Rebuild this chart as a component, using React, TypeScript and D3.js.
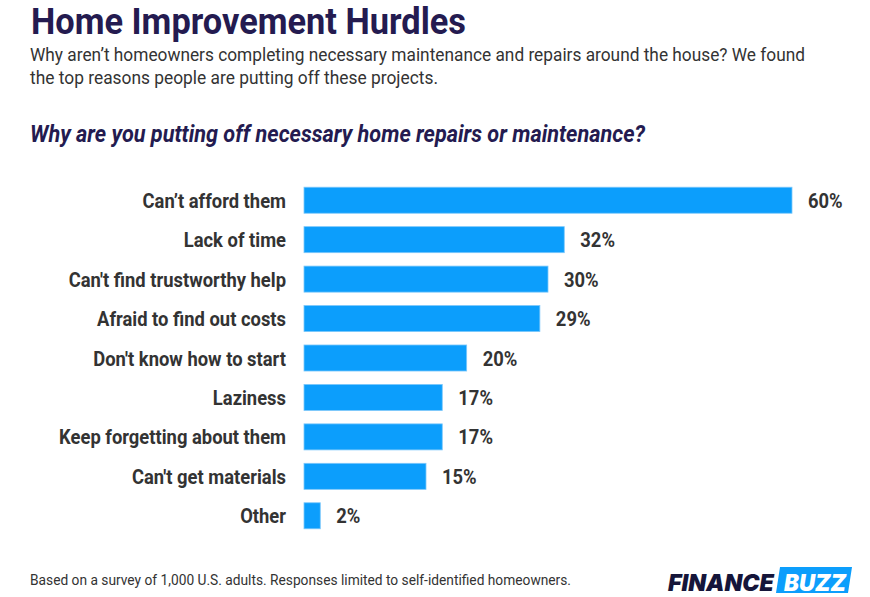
import React from "react";
import * as d3 from "d3";

const categories = [
  "Can’t afford them",
  "Lack of time",
  "Can't find trustworthy help",
  "Afraid to find out costs",
  "Don't know how to start",
  "Laziness",
  "Keep forgetting about them",
  "Can't get materials",
  "Other",
];
const values = [60, 32, 30, 29, 20, 17, 17, 15, 2];

const W = 870;
const H = 597;
const SX = 0.92; // condensed look

export default function App() {
  const x = d3.scaleLinear().domain([0, 60]).range([304, 792]);
  const y = d3
    .scaleBand<string>()
    .domain(categories)
    .range([180.5, 535.5])
    .paddingInner(0.34)
    .paddingOuter(0.17);
  const bw = y.bandwidth();
  const font = "Roboto, 'Noto Sans', sans-serif";

  return (
    <svg width={W} height={H} viewBox={`0 0 ${W} ${H}`} style={{ position: "absolute", left: 0, top: 0, background: "#fff" }}>
      <rect x={0} y={0} width={W} height={H} fill="#fff" />
      <text x={31} y={34.3} fontFamily={font} fontWeight={700} fontSize={37} fill="#241b50" textLength={435} lengthAdjust="spacingAndGlyphs">
        Home Improvement Hurdles
      </text>
      <text x={30} y={61} fontFamily={font} fontSize={18} fill="#333" textLength={775} lengthAdjust="spacingAndGlyphs">
        Why aren’t homeowners completing necessary maintenance and repairs around the house? We found
      </text>
      <text x={30} y={84} fontFamily={font} fontSize={18} fill="#333" textLength={408} lengthAdjust="spacingAndGlyphs">
        the top reasons people are putting off these projects.
      </text>
      <text x={30} y={142} fontFamily={font} fontWeight={700} fontStyle="italic" fontSize={23} fill="#241b50" textLength={615} lengthAdjust="spacingAndGlyphs">
        Why are you putting off necessary home repairs or maintenance?
      </text>

      {categories.map((c, i) => {
        const yy = y(c)!;
        const cy = yy + bw / 2;
        return (
          <g key={c}>
            <rect x={x(0)} y={yy} width={x(values[i]) - x(0)} height={bw} fill="#0c9efc" stroke="#7cc8fb" strokeWidth={0.8} />
            <text transform={`translate(286,${cy + 7.5}) scale(${SX},1)`} textAnchor="end" fontFamily={font} fontWeight={700} fontSize={20} fill="#333">
              {c}
            </text>
            <text transform={`translate(${x(values[i]) + 16},${cy + 7.5}) scale(${SX},1)`} fontFamily={font} fontWeight={700} fontSize={20} fill="#333">
              {values[i]}%
            </text>
          </g>
        );
      })}

      <text x={30} y={585} fontFamily={font} fontSize={14} fill="#333" textLength={541} lengthAdjust="spacingAndGlyphs">
        Based on a survey of 1,000 U.S. adults. Responses limited to self-identified homeowners.
      </text>

      <text x={668} y={590.5} fontFamily="Inter, Roboto, sans-serif" fontWeight={900} fontStyle="italic" fontSize={23} fill="#15153a" textLength={106} lengthAdjust="spacingAndGlyphs">
        FINANCE
      </text>
      <polygon points="780,567 852,567 848,593 776,593" fill="#0c9efc" />
      <text x={784} y={590.5} fontFamily="Inter, Roboto, sans-serif" fontWeight={900} fontStyle="italic" fontSize={23} fill="#fff" textLength={62} lengthAdjust="spacingAndGlyphs">
        BUZZ
      </text>
    </svg>
  );
}
